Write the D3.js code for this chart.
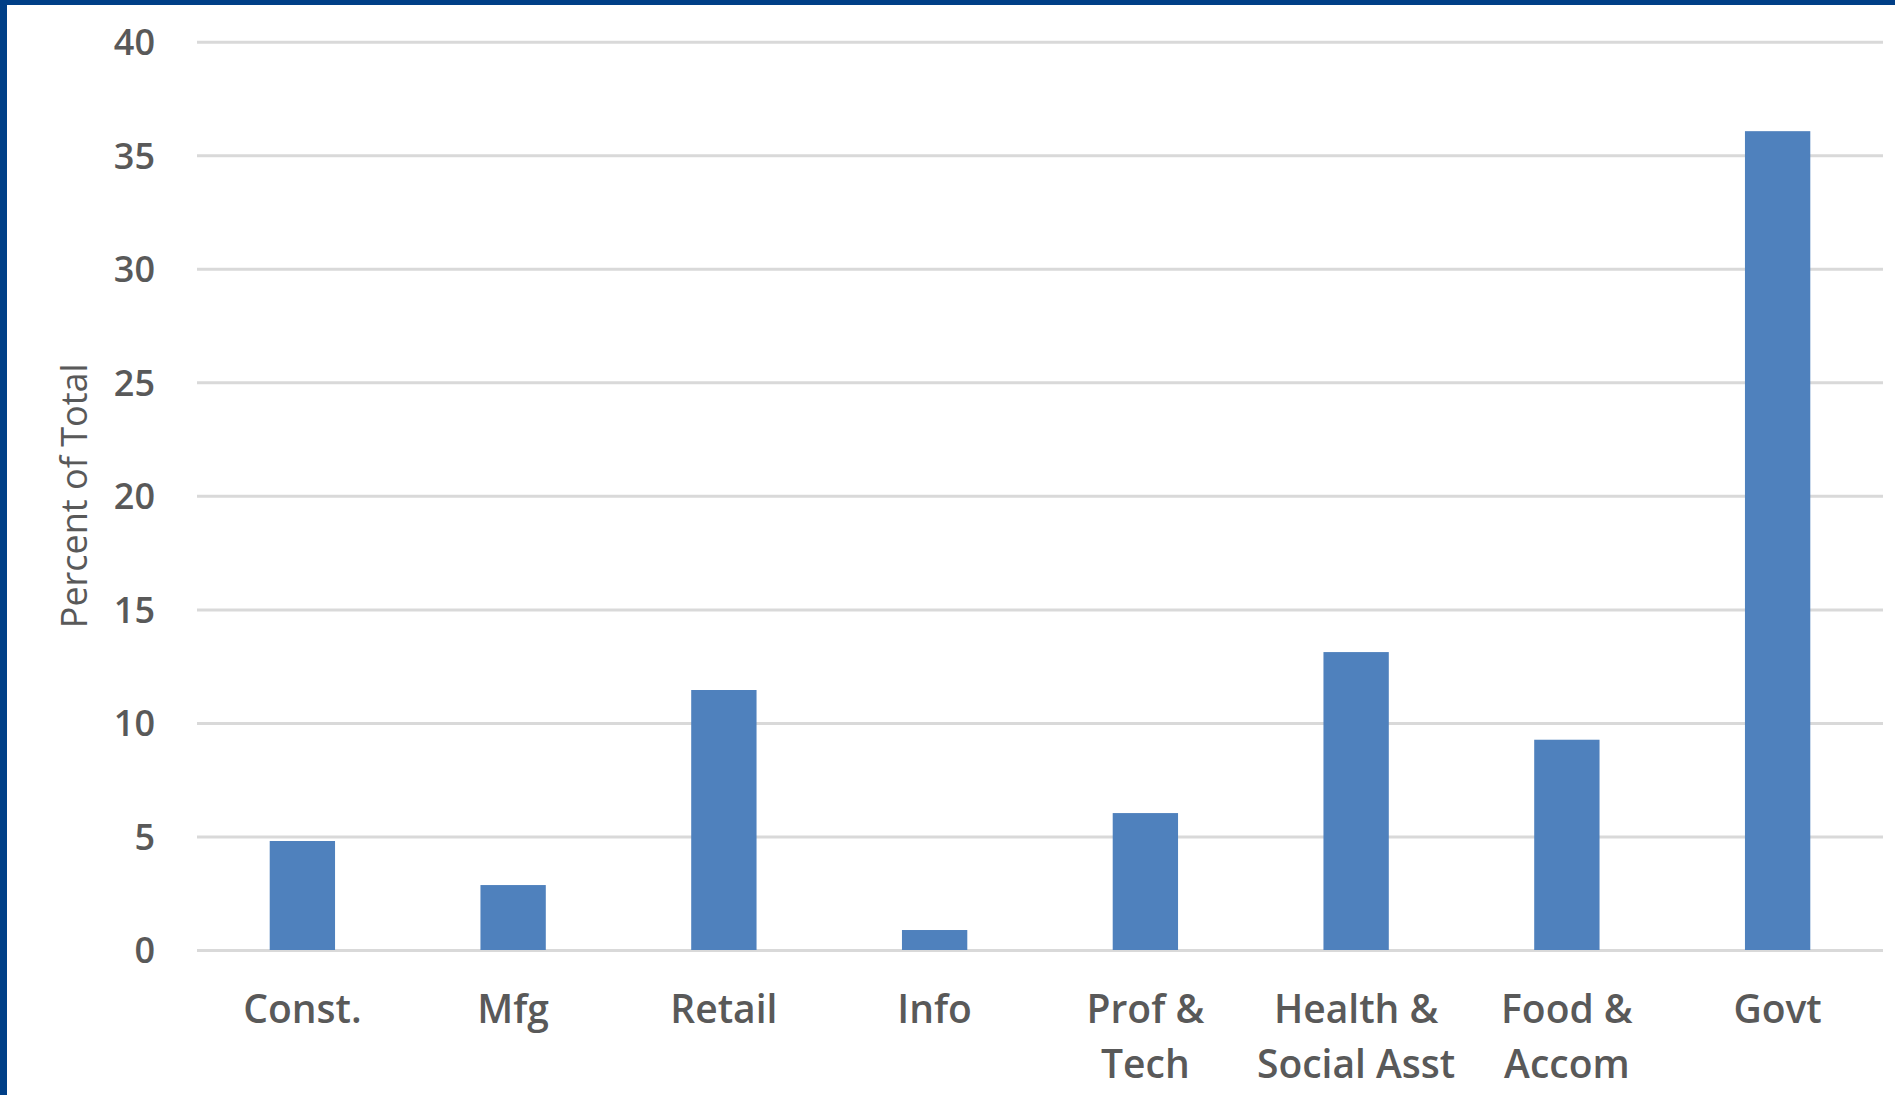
<!DOCTYPE html>
<html>
<head>
<meta charset="utf-8">
<script src="https://cdn.jsdelivr.net/npm/d3@7"></script>
<style>
  html, body { margin: 0; padding: 0; background: #fff; }
  svg { display: block; }
  .tick text { font-family: "Open Sans", sans-serif; }
</style>
</head>
<body>
<div id="chart"></div>
<script>
// data
const categories = ['Const.', 'Mfg', 'Retail', 'Info', 'Prof & Tech', 'Health & Social Asst', 'Food & Accom', 'Govt'];
const labelLines = [['Const.'], ['Mfg'], ['Retail'], ['Info'], ['Prof &', 'Tech'], ['Health &', 'Social Asst'], ['Food &', 'Accom'], ['Govt']];
const values = [4.8, 2.86, 11.45, 0.88, 6.03, 13.12, 9.26, 36.06];
const yTicks = [0, 5, 10, 15, 20, 25, 30, 35, 40];
const yTitle = 'Percent of Total';

const W = 1895, H = 1095;
const m = { t: 41.7, r: 12, b: 145, l: 197 };
const ink = '#595959', barFill = '#4f81bd', grid = '#d9d9d9', frame = '#003f87';

const svg = d3.select('#chart').append('svg').attr('width', W).attr('height', H);

const x = d3.scaleBand().domain(categories).range([m.l, W - m.r]).paddingInner(0.69).paddingOuter(0.345);
const y = d3.scaleLinear().domain([0, 40]).range([H - m.b, m.t]);

// gridlines
svg.append('g').attr('transform', `translate(${m.l},0)`)
  .call(d3.axisLeft(y).tickValues(yTicks).tickSize(-(W - m.r - m.l)).tickFormat(''))
  .call(g => g.select('.domain').remove())
  .call(g => g.selectAll('line').attr('stroke', grid).attr('stroke-width', 3));

// y tick labels
svg.append('g').attr('transform', `translate(${m.l},0)`)
  .call(d3.axisLeft(y).tickValues(yTicks).tickSize(0).tickPadding(42).tickFormat(d3.format('d')))
  .call(g => g.select('.domain').remove())
  .call(g => g.selectAll('text').attr('fill', ink).attr('font-size', 36).attr('font-weight', 600).attr('dy', '0.36em'));

// bars
svg.append('g').selectAll('rect').data(categories).join('rect')
  .attr('x', d => x(d)).attr('width', x.bandwidth())
  .attr('y', (d, i) => y(values[i])).attr('height', (d, i) => y(0) - y(values[i]))
  .attr('fill', barFill);

// category labels
const lab = svg.append('g').selectAll('text').data(categories).join('text')
  .attr('text-anchor', 'middle').attr('font-family', '"Open Sans", sans-serif')
  .attr('font-size', 39).attr('font-weight', 600).attr('fill', ink);
lab.selectAll('tspan').data((d, i) => labelLines[i].map(s => ({ s, c: d }))).join('tspan')
  .attr('x', t => x(t.c) + x.bandwidth() / 2)
  .attr('y', (t, j) => 1023 + j * 55)
  .text(t => t.s);

// axis title
svg.append('text')
  .attr('transform', `translate(87,${(y(0) + y(40)) / 2}) rotate(-90)`)
  .attr('text-anchor', 'middle').attr('font-family', '"Open Sans", sans-serif')
  .attr('font-size', 36).attr('fill', ink).text(yTitle);

// slide frame
svg.append('rect').attr('x', 0).attr('y', 0).attr('width', 7).attr('height', H).attr('fill', frame);
svg.append('rect').attr('x', 0).attr('y', 0).attr('width', W).attr('height', 5).attr('fill', frame);
</script>
</body>
</html>
